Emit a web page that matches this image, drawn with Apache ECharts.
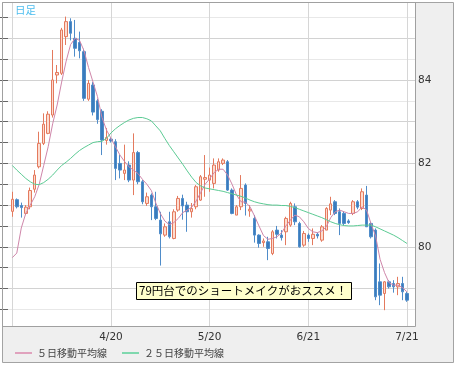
<!DOCTYPE html>
<html><head><meta charset="utf-8">
<script src="https://cdn.jsdelivr.net/npm/echarts@6/dist/echarts.min.js"></script>
<style>html,body{margin:0;padding:0;background:#fff}#c{width:458px;height:369px}</style>
</head><body><div id="c"></div>
<script>
// ---- data ----
const dates = [
'3/21','3/22','3/23','3/24','3/25','3/28','3/29','3/30','3/31','4/1',
'4/4','4/5','4/6','4/7','4/8','4/11','4/12','4/13','4/14','4/15',
'4/18','4/19','4/20','4/21','4/22','4/25','4/26','4/27','4/28','4/29',
'5/2','5/3','5/4','5/5','5/6','5/9','5/10','5/11','5/12','5/13',
'5/16','5/17','5/18','5/19','5/20','5/23','5/24','5/25','5/26','5/27',
'5/30','5/31','6/1','6/2','6/3','6/6','6/7','6/8','6/9','6/10',
'6/13','6/14','6/15','6/16','6/17','6/20','6/21','6/22','6/23','6/24',
'6/27','6/28','6/29','6/30','7/1','7/4','7/5','7/6','7/7','7/8',
'7/11','7/12','7/13','7/14','7/15','7/18','7/19','7/20','7/21'];
const opens = [80.85,81.13,80.99,80.80,80.96, 81.38,81.92,82.48,82.72,83.16,
84.12,84.16,85.04,85.40,85.00, 84.90,84.68,83.54,83.88,83.50,
83.25,82.55,82.58,82.52,82.00, 81.76,81.96,81.60,82.26,81.56,
81.04,81.24,80.96,80.64,80.28, 80.60,80.20,80.88,81.16,81.00,
80.84,80.96,81.12,81.62,81.60, 81.52,81.84,82.00,82.04,81.36,
80.76,80.96,81.48,80.86,80.68, 80.28,80.10,80.12,79.84,80.40,
80.28,80.36,80.52,80.96,80.56, 80.04,80.28,80.20,80.30,80.16,
80.40,80.88,81.08,80.84,80.80, 80.62,80.80,81.08,80.92,81.24,
80.56,80.40,79.16,78.88,79.16, 79.12,79.04,79.12,78.88];
const closes = [81.14,80.96,80.94,80.95,81.35, 81.72,82.48,82.94,83.18,84.00,
84.18,85.20,85.40,85.12,84.76, 84.70,83.56,83.92,83.23,83.05,
82.56,82.62,82.54,81.88,81.84, 81.84,81.60,82.26,81.56,81.08,
81.20,80.96,80.68,80.31,80.48, 80.24,80.84,81.16,80.98,80.84,
80.92,81.44,81.68,81.66,81.72, 81.96,82.04,82.08,81.36,80.80,
80.96,81.40,81.04,80.90,80.28, 80.08,80.14,79.96,80.36,80.30,
80.22,80.68,81.04,80.60,80.00, 80.32,80.20,80.30,80.26,80.48,
80.92,81.03,80.80,80.56,80.56, 80.58,81.08,80.95,81.32,80.48,
80.24,78.80,78.84,79.16,79.04, 79.04,79.12,78.92,78.72];
const lows = [80.72,80.92,80.70,80.76,80.90, 81.30,81.88,82.44,82.70,83.10,
83.92,84.12,84.84,84.95,84.56, 84.52,83.50,83.50,83.15,82.95,
82.20,82.45,82.50,81.60,81.64, 81.60,81.55,81.24,81.50,81.02,
80.98,80.64,80.64,79.55,80.24, 80.20,80.18,80.84,80.65,80.36,
80.70,80.90,81.10,81.20,81.32, 81.40,81.80,81.96,81.34,80.78,
80.76,80.88,80.75,80.72,80.10, 79.98,80.00,79.68,79.80,80.20,
80.15,80.04,80.48,80.52,79.98, 80.00,80.12,80.04,80.20,80.12,
80.40,80.76,80.76,80.28,80.52, 80.55,80.76,80.90,80.88,80.48,
80.20,78.72,78.60,78.48,79.00, 78.90,78.84,78.72,78.68];
const highs = [81.32,81.16,81.06,81.00,81.42, 81.84,82.76,83.20,83.25,84.72,
84.36,85.25,85.52,85.48,85.44, 85.16,84.75,84.00,83.95,83.55,
83.30,82.85,82.62,82.58,82.20, 82.45,82.05,82.72,82.30,81.60,
81.30,81.28,81.32,80.84,80.56, 80.84,80.90,81.22,81.25,81.08,
81.05,81.48,81.72,82.20,81.90, 82.12,82.12,82.12,82.08,81.40,
81.00,81.72,81.52,81.00,80.76, 80.30,80.20,80.24,80.40,80.50,
80.40,80.72,81.08,81.04,80.60, 80.38,80.32,80.44,80.34,80.52,
80.95,81.20,81.12,80.92,80.84, 80.66,81.12,81.12,81.40,81.46,
80.60,80.44,79.60,79.18,79.20, 79.20,79.28,79.28,78.92];
const ma5 = [79.74,79.85,80.45,80.80,81.00, 81.20,81.50,81.95,82.40,82.95,
83.40,83.95,84.45,84.85,85.00, 84.95,84.70,84.30,83.95,83.60,
83.10,82.80,82.60,82.40,82.20, 82.05,81.92,81.84,81.76,81.62,
81.50,81.35,81.05,80.80,80.62, 80.53,80.58,80.68,80.82,80.88,
80.95,81.10,81.30,81.50,81.63, 81.78,81.86,81.86,81.72,81.50,
81.24,81.08,81.07,80.96,80.74, 80.50,80.27,80.18,80.20,80.24,
80.33,80.50,80.64,80.76,80.72, 80.60,80.44,80.36,80.34,80.38,
80.48,80.70,80.84,80.88,80.84, 80.80,80.80,80.84,80.96,80.88,
80.55,80.26,79.70,79.38,79.14, 79.08,79.08,79.02,78.92];
const ma25 = [81.95,81.84,81.74,81.64,81.56, 81.50,81.49,81.54,81.62,81.72,
81.84,81.95,82.03,82.12,82.22, 82.31,82.38,82.44,82.50,82.52,
82.53,82.60,82.73,82.83,82.91, 82.98,83.04,83.08,83.10,83.10,
83.07,83.02,82.90,82.78,82.60, 82.43,82.28,82.13,81.98,81.82,
81.67,81.54,81.46,81.41,81.39, 81.37,81.35,81.33,81.30,81.27,
81.24,81.21,81.17,81.12,81.08, 81.05,81.03,81.01,81.00,81.00,
80.99,80.99,80.97,80.94,80.90, 80.86,80.82,80.78,80.74,80.70,
80.65,80.60,80.56,80.53,80.51, 80.50,80.50,80.51,80.52,80.52,
80.52,80.48,80.43,80.38,80.33, 80.28,80.22,80.15,80.08];
const xLabels = ['4/20','5/20','6/21','7/21'];
const gridDates = ['3/21','4/20','5/20','6/21','7/21'];
const yTickLabels = [80, 82, 84];
const ma5Name = '５日移動平均線';
const ma25Name = '２５日移動平均線';
const titleText = '日足';
const noteText = '79円台でのショートメイクがおススメ！';

// ---- chart ----
const padL = ['p0','p1'], padR = ['p2','p3'];
const cats = padL.concat(dates, padR);
const off = padL.length;
const Y_MIN = 78.1007, Y_MAX = 85.8465;
const cjk = '"Noto Sans CJK JP"';

const chart = echarts.init(document.getElementById('c'), null, {renderer: 'canvas'});
chart.setOption({
  animation: false,
  backgroundColor: '#ffffff',
  textStyle: {fontFamily: 'DejaVu Sans'},
  grid: [
    {left: 3, top: 17.45, width: 412, height: 291.9, show: false},
    {left: 3.33, top: 3, width: 412.62, height: 323, show: false}
  ],
  xAxis: [
    {gridIndex: 0, type: 'value', min: 0, max: 1, show: false},
    {gridIndex: 1, type: 'category', data: cats, boundaryGap: false,
     axisLine: {show: false}, axisTick: {show: false},
     axisLabel: {interval: (i, v) => xLabels.includes(v), color: '#333', fontSize: 10.5, margin: 6, fontFamily: 'DejaVu Sans'},
     splitLine: {show: true, interval: (i, v) => gridDates.includes(v), lineStyle: {color: '#d6d6d6', width: 1}}}
  ],
  yAxis: [
    {gridIndex: 0, type: 'value', position: 'right', min: 78.5, max: 85.5, interval: 0.5,
     axisLine: {show: false},
     axisTick: {show: true, inside: true, length: 5, lineStyle: {color: '#666'}},
     axisLabel: {formatter: v => yTickLabels.includes(Math.round(v * 100) / 100) ? String(v) : '', color: '#333', fontSize: 10.5, margin: 3, fontFamily: 'DejaVu Sans'},
     splitLine: {show: true, lineStyle: {color: ['#e8e8e8', '#d2d2d2'], width: 1}}},
    {gridIndex: 0, type: 'value', position: 'left', min: 78.5, max: 85.5, interval: 0.5,
     axisLine: {show: false},
     axisTick: {show: true, inside: true, length: 5, lineStyle: {color: '#666'}},
     axisLabel: {show: false}, splitLine: {show: false}},
    {gridIndex: 1, type: 'value', min: Y_MIN, max: Y_MAX, show: false, splitLine: {show: false}}
  ],
  legend: {
    data: [ma5Name, ma25Name], left: 15, top: 348, padding: 0,
    itemWidth: 17, itemHeight: 2, itemGap: 15, icon: 'rect',
    textStyle: {fontSize: 10, color: '#444', fontFamily: cjk}
  },
  graphic: [
    {type: 'rect', z: -10, silent: true, shape: {x: 2.5, y: 2.5, width: 451, height: 360},
     style: {fill: '#efefef', stroke: '#a3a3a3', lineWidth: 1}},
    {type: 'rect', z: -9, silent: true, shape: {x: 3, y: 3, width: 412, height: 323},
     style: {fill: '#ffffff'}},
    {type: 'rect', z: 50, silent: true, shape: {x: 2.5, y: 2.5, width: 413, height: 324},
     style: {fill: 'none', stroke: '#a0a0a0', lineWidth: 1}},
    {type: 'text', z: 50, x: 15, y: 5, silent: true,
     style: {text: titleText, fill: '#4cbdee', font: '10.5px ' + cjk}},
    {type: 'rect', z: 60, silent: true, shape: {x: 136.5, y: 282.5, width: 215, height: 17},
     style: {fill: '#ffffcc', stroke: '#000', lineWidth: 1}},
    {type: 'text', z: 61, x: 139, y: 291, silent: true,
     style: {text: noteText, fill: '#000', font: '11.5px ' + cjk, verticalAlign: 'middle'}}
  ],
  series: [
    {type: 'candlestick', name: 'price', xAxisIndex: 1, yAxisIndex: 2, barWidth: 3,
     encode: {x: 0, y: [1, 2, 3, 4]},
     data: dates.map((d, i) => [i + off, opens[i], closes[i], lows[i], highs[i]]),
     itemStyle: {color: '#fcdcd0', borderColor: '#e47a5e', color0: '#3a7cbd', borderColor0: '#4f8cc9', borderWidth: 1}},
    {type: 'line', name: ma5Name, xAxisIndex: 1, yAxisIndex: 2, symbol: 'none', showSymbol: false,
     data: ma5.map((v, i) => [i + off, v]),
     lineStyle: {color: '#cf86aa', width: 1}, itemStyle: {color: '#e0a2bd'}},
    {type: 'line', name: ma25Name, xAxisIndex: 1, yAxisIndex: 2, symbol: 'none', showSymbol: false,
     data: ma25.map((v, i) => [i + off, v]),
     lineStyle: {color: '#5ccb94', width: 1}, itemStyle: {color: '#7fd8ae'}}
  ]
});
</script></body></html>
